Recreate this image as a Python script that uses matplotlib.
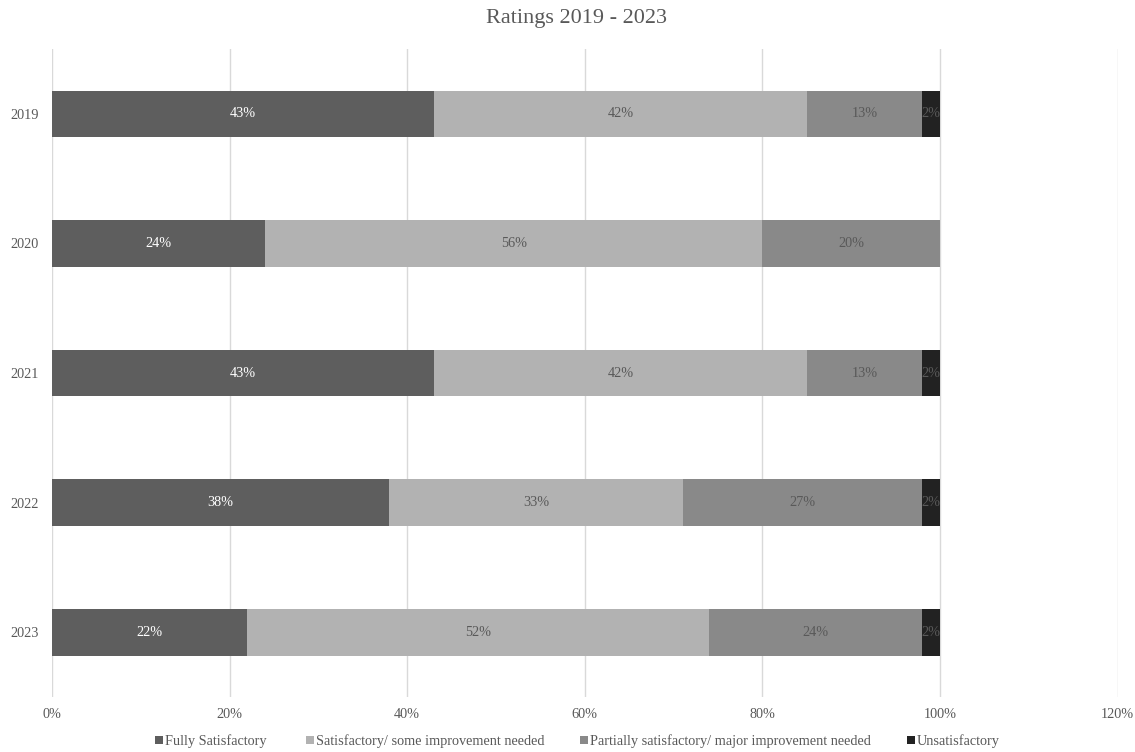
import matplotlib.pyplot as plt
import numpy as np

plt.rcParams['font.family'] = ['Liberation Serif', 'DejaVu Serif']

years = ["2019", "2020", "2021", "2022", "2023"]
series = ["Fully Satisfactory", "Satisfactory/ some improvement needed",
          "Partially satisfactory/ major improvement needed", "Unsatisfactory"]
fully = [43, 24, 43, 38, 22]
satisf = [42, 56, 42, 33, 52]
partial = [13, 20, 13, 27, 24]
unsat = [2, 0, 2, 2, 2]

colors = ["#5e5e5e", "#b2b2b2", "#898989", "#222222"]
label_colors = ["white", "#595959", "#595959", "#595959"]
fs = 10.3

fig = plt.figure(figsize=(11.35, 7.52), dpi=100)
ax = fig.add_axes([0.0458, 0.0731, 0.939, 0.8617])

y = np.arange(len(years))
left = np.zeros(len(years))
handles = []
for vals, name, c, lc in zip([fully, satisf, partial, unsat], series, colors, label_colors):
    vals = np.array(vals, dtype=float)
    bars = ax.barh(y, vals, left=left, height=0.36, color=c, label=name, zorder=2)
    handles.append(bars)
    for yi, v, l in zip(y, vals, left):
        if v > 0:
            ax.text(l + v / 2, yi, f"{int(v)}%", ha="center", va="center",
                    color=lc, fontsize=fs, zorder=3)
    left += vals

ax.set_xlim(0, 120)
ax.set_ylim(4.5, -0.5)
ax.set_yticks(y)
ax.set_yticklabels(years)
ax.set_xticks(np.arange(0, 121, 20))
ax.set_xticklabels([f"{v}%" for v in range(0, 121, 20)])
ax.tick_params(length=0, labelsize=fs, labelcolor="#595959")
ax.tick_params(axis="x", pad=8)
ax.tick_params(axis="y", pad=9.4)
ax.grid(axis="x", color="#d9d9d9", linewidth=1, zorder=0)
for s in ax.spines.values():
    s.set_visible(False)

fig.text(576 / 1135, 1 - 18 / 752, "Ratings 2019 - 2023", ha="center", va="center",
         fontsize=16, color="#595959")

# legend entries spaced like the original
leg_x = [155, 306, 580, 907]
for h, name, lx in zip(handles, series, leg_x):
    leg = fig.legend([h], [name], loc="center left",
                     bbox_to_anchor=(lx / 1135, 1 - 741 / 752),
                     bbox_transform=fig.transFigure, frameon=False, fontsize=fs,
                     handlelength=0.55, handleheight=0.55, handletextpad=0.15,
                     borderpad=0, borderaxespad=0, labelcolor="#595959")

fig.savefig("out.png", dpi=100)
